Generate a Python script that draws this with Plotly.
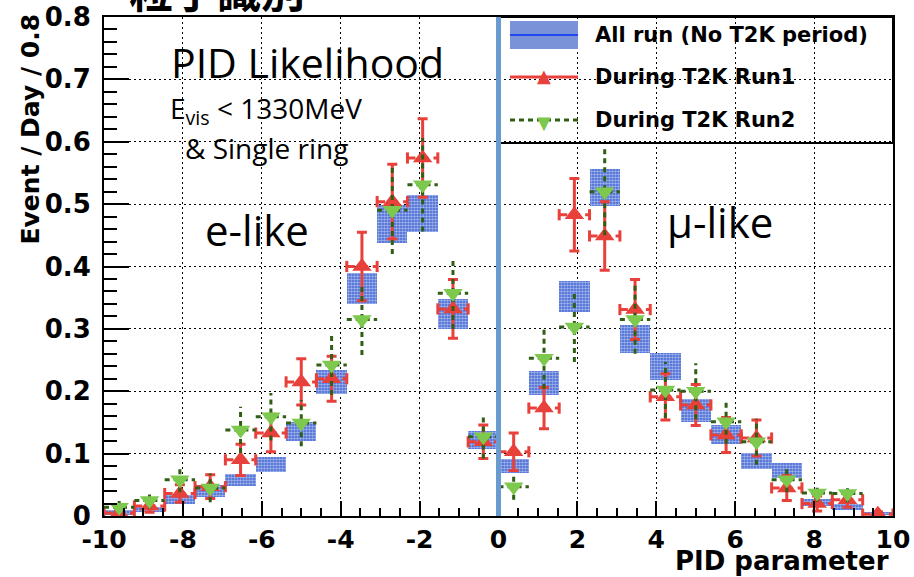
import numpy as np
import plotly.graph_objects as go

# ---------------- data ----------------
n_bins = 26
x_lo, x_hi = -10.0, 10.0

all_run_val = [0.006, 0.010, 0.026, 0.040, 0.058, 0.083, 0.136, 0.215, 0.365, 0.468, 0.485, 0.324, 0.122,
               0.080, 0.213, 0.352, 0.527, 0.284, 0.240, 0.169, 0.131, 0.088, 0.073, 0.022, 0.015, 0.004]
all_run_err = [0.004, 0.004, 0.007, 0.010, 0.010, 0.012, 0.015, 0.019, 0.025, 0.030, 0.030, 0.024, 0.014,
               0.011, 0.019, 0.025, 0.030, 0.023, 0.022, 0.018, 0.015, 0.013, 0.012, 0.006, 0.005, 0.003]

run1_val = [0.005, 0.016, 0.036, 0.047, 0.090, 0.133, 0.215, 0.220, 0.400, 0.504, 0.574, 0.332, 0.119,
            0.103, 0.173, 0.483, 0.449, 0.331, 0.191, 0.178, 0.130, 0.125, 0.045, 0.020, 0.026, 0.003]
run1_err = [0.005, 0.010, 0.014, 0.019, 0.025, 0.030, 0.037, 0.036, 0.055, 0.060, 0.063, 0.047, 0.027,
            0.030, 0.033, 0.058, 0.055, 0.048, 0.037, 0.033, 0.028, 0.029, 0.020, 0.012, 0.012, 0.004]

run2_val = [0.014, 0.025, 0.058, 0.045, 0.138, 0.159, 0.149, 0.242, 0.315, 0.490, 0.531, 0.357, 0.127,
            0.047, 0.253, 0.303, 0.520, 0.315, 0.202, 0.200, 0.151, 0.119, 0.058, 0.037, 0.036, None]
run2_err = [0.010, 0.013, 0.020, 0.023, 0.037, 0.038, 0.037, 0.048, 0.057, 0.070, 0.075, 0.057, 0.035,
            0.021, 0.049, 0.056, 0.070, 0.055, 0.045, 0.045, 0.035, 0.037, 0.020, 0.014, 0.014, None]

x_tick_vals = [-10, -8, -6, -4, -2, 0, 2, 4, 6, 8, 10]
x_tick_text = ["-10", "-8", "-6", "-4", "-2", "0", "2", "4", "6", "8", "10"]
y_tick_vals = [0, 0.1, 0.2, 0.3, 0.4, 0.5, 0.6, 0.7, 0.8]
y_tick_text = ["0", "0.1", "0.2", "0.3", "0.4", "0.5", "0.6", "0.7", "0.8"]

legend_names = ["All run (No T2K period)", "During T2K Run1", "During T2K Run2"]

# ---------------- styles ----------------
RED = "#e8403a"
GREEN_DOT = "#2f5e14"
GREEN_MK = "#7cc94e"
BOX_BG = "#3f64d2"
VLINE = "#6a9bd0"
TICKFONT = dict(family="DejaVu Sans", size=25, color="black", weight="bold")
TEXTFONT = "Open Sans"

edges = np.linspace(x_lo, x_hi, n_bins + 1)
centers = 0.5 * (edges[:-1] + edges[1:])
hw = 0.5 * (edges[1] - edges[0])

a_v = np.array(all_run_val)
a_e = np.array(all_run_err)

fig = go.Figure()

# boxes (All run)
fig.add_trace(go.Bar(
    x=centers, y=2 * a_e, base=a_v - a_e, width=2 * hw,
    marker=dict(color=BOX_BG, line=dict(width=0),
                pattern=dict(shape=".", fgcolor="white", size=3, solidity=0.55)),
    showlegend=False, hoverinfo="skip"))

# Run1 horizontal bars (dashed) + caps
hx, hy = [], []
for c, v in zip(centers, run1_val):
    hx += [c - hw, c + hw, None]
    hy += [v, v, None]
fig.add_trace(go.Scatter(x=hx, y=hy, mode="lines", line=dict(color=RED, width=3, dash="8px,5px"),
                         showlegend=False, hoverinfo="skip"))
cx, cy = [], []
for c, v in zip(centers, run1_val):
    cx += [c - hw, c + hw]
    cy += [v, v]
fig.add_trace(go.Scatter(x=cx, y=cy, mode="markers",
                         marker=dict(symbol="line-ns", size=8, line=dict(color=RED, width=3)),
                         showlegend=False, hoverinfo="skip"))
# Run1 points + vertical errors
fig.add_trace(go.Scatter(
    x=centers, y=run1_val, mode="markers",
    marker=dict(symbol="triangle-up", size=17, color=RED, line=dict(width=0)),
    error_y=dict(type="data", array=run1_err, color=RED, thickness=3, width=5),
    showlegend=False, hoverinfo="skip"))

# Run2 dotted errors
gx, gy = [], []
for c, v, e in zip(centers, run2_val, run2_err):
    if v is None:
        continue
    gx += [c, c, None, c - hw, c + hw, None]
    gy += [v - e, v + e, None, v, v, None]
fig.add_trace(go.Scatter(x=gx, y=gy, mode="lines", line=dict(color=GREEN_DOT, width=3, dash="5px,4px"),
                         showlegend=False, hoverinfo="skip"))
fig.add_trace(go.Scatter(
    x=centers, y=run2_val, mode="markers",
    marker=dict(symbol="triangle-down", size=17, color=GREEN_MK, line=dict(width=0)),
    showlegend=False, hoverinfo="skip"))

# ---------------- layout ----------------
L, R, T, B = 104, 21, 17, 61
W, H = 914, 577
PW, PH = W - L - R, H - T - B


def px_x(p):
    return (p - L) / PW


def px_y(p):
    return (H - B - p) / PH


fig.update_layout(
    width=W, height=H,
    margin=dict(l=L, r=R, t=T, b=B, pad=0, autoexpand=False),
    plot_bgcolor="white", paper_bgcolor="white",
    showlegend=False, bargap=0,
)
fig.update_xaxes(
    range=[x_lo, x_hi], tickvals=x_tick_vals, ticktext=x_tick_text, automargin=False,
    showline=True, linecolor="black", linewidth=2, mirror=True,
    ticks="inside", ticklen=15, tickwidth=2, tickcolor="black",
    minor=dict(dtick=0.5, ticks="inside", ticklen=8, tickwidth=1.5, tickcolor="black", showgrid=False),
    showgrid=True, gridcolor="black", gridwidth=1, griddash="2px,3px",
    tickfont=TICKFONT, zeroline=False, ticklabelstandoff=0,
)
fig.update_yaxes(
    range=[0, 0.8], tickvals=y_tick_vals, ticktext=y_tick_text, automargin=False,
    showline=True, linecolor="black", linewidth=2, mirror=True,
    ticks="inside", ticklen=25, tickwidth=2, tickcolor="black",
    minor=dict(dtick=0.02, ticks="inside", ticklen=13, tickwidth=1.5, tickcolor="black", showgrid=False),
    showgrid=True, gridcolor="black", gridwidth=1, griddash="2px,3px",
    tickfont=dict(family="DejaVu Sans", size=26, color="black", weight="bold"),
    zeroline=False, ticklabelstandoff=6,
)

shapes = []
# legend frame (transparent)
lg_x0, lg_x1 = px_x(497), 1.0
lg_y0, lg_y1 = px_y(143), 1.0
shapes.append(dict(type="rect", xref="paper", yref="paper", x0=lg_x0, x1=lg_x1, y0=lg_y0, y1=lg_y1,
                   line=dict(color="black", width=2), fillcolor="rgba(0,0,0,0)", layer="above"))
row_y = [35, 77, 120]
sx0, sx1 = px_x(510), px_x(578)
# All run sample
shapes.append(dict(type="rect", xref="paper", yref="paper", x0=sx0, x1=sx1,
                   y0=px_y(row_y[0] + 14), y1=px_y(row_y[0] - 14),
                   line=dict(width=0), fillcolor="#7a92d8", layer="above"))
shapes.append(dict(type="line", xref="paper", yref="paper", x0=sx0, x1=sx1,
                   y0=px_y(row_y[0]), y1=px_y(row_y[0]), line=dict(color="#1f48f0", width=2), layer="above"))
# Run1 sample
shapes.append(dict(type="line", xref="paper", yref="paper", x0=sx0, x1=sx1,
                   y0=px_y(row_y[1]), y1=px_y(row_y[1]), line=dict(color=RED, width=3), layer="above"))
# Run2 sample
shapes.append(dict(type="line", xref="paper", yref="paper", x0=sx0, x1=sx1,
                   y0=px_y(row_y[2]), y1=px_y(row_y[2]), line=dict(color=GREEN_DOT, width=3, dash="5px,4px"),
                   layer="above"))
# vertical blue line at PID = 0
shapes.append(dict(type="line", xref="x", yref="paper", x0=0, x1=0, y0=0, y1=1,
                   line=dict(color=VLINE, width=5), layer="above"))
fig.update_layout(shapes=shapes)

ann = []
LEGFONT = dict(family="DejaVu Sans", size=21, color="black", weight="bold")
for name, ry in zip(legend_names, row_y):
    ann.append(dict(text=name, xref="paper", yref="paper", x=px_x(593), y=px_y(ry),
                    xanchor="left", yanchor="middle", showarrow=False, font=LEGFONT))
ann.append(dict(text="▲", xref="paper", yref="paper", x=px_x(544), y=px_y(row_y[1] - 2),
                xanchor="center", yanchor="middle", showarrow=False,
                font=dict(family="DejaVu Sans", size=18, color=RED)))
ann.append(dict(text="▼", xref="paper", yref="paper", x=px_x(544), y=px_y(row_y[2] + 2),
                xanchor="center", yanchor="middle", showarrow=False,
                font=dict(family="DejaVu Sans", size=18, color=GREEN_MK)))

# axis titles
ann.append(dict(text="PID parameter", xref="paper", yref="paper", x=px_x(891), y=px_y(561),
                xanchor="right", yanchor="middle", showarrow=False,
                font=dict(family="DejaVu Sans", size=26, color="black", weight="bold")))
ann.append(dict(text="Event / Day / 0.8", xref="paper", yref="paper", x=px_x(30), y=px_y(12),
                xanchor="center", yanchor="top", textangle=-90, showarrow=False,
                font=dict(family="DejaVu Sans", size=25, color="black", weight="bold")))

# in-plot texts
ann.append(dict(text="PID Likelihood", xref="paper", yref="paper", x=px_x(307), y=px_y(62),
                xanchor="center", yanchor="middle", showarrow=False,
                font=dict(family=TEXTFONT, size=41, color="black")))
ann.append(dict(text="E<sub>vis</sub> &lt; 1330MeV", xref="paper", yref="paper", x=px_x(168), y=px_y(110),
                xanchor="left", yanchor="middle", showarrow=False,
                font=dict(family=TEXTFONT, size=28, color="black")))
ann.append(dict(text="&amp; Single ring", xref="paper", yref="paper", x=px_x(183), y=px_y(148),
                xanchor="left", yanchor="middle", showarrow=False,
                font=dict(family=TEXTFONT, size=28, color="black")))
ann.append(dict(text="e-like", xref="paper", yref="paper", x=px_x(203), y=px_y(229),
                xanchor="left", yanchor="middle", showarrow=False,
                font=dict(family=TEXTFONT, size=42, color="black")))
ann.append(dict(text="μ-like", xref="paper", yref="paper", x=px_x(665), y=px_y(222),
                xanchor="left", yanchor="middle", showarrow=False,
                font=dict(family=TEXTFONT, size=42, color="black")))
# cut-off Japanese title at the top
ann.append(dict(text="粒子識別", xref="paper", yref="paper", x=px_x(217), y=px_y(-11),
                xanchor="center", yanchor="middle", showarrow=False,
                font=dict(family="Noto Sans CJK JP", size=44, color="black", weight="bold")))
fig.update_layout(annotations=ann)

fig.write_html("out.html")
